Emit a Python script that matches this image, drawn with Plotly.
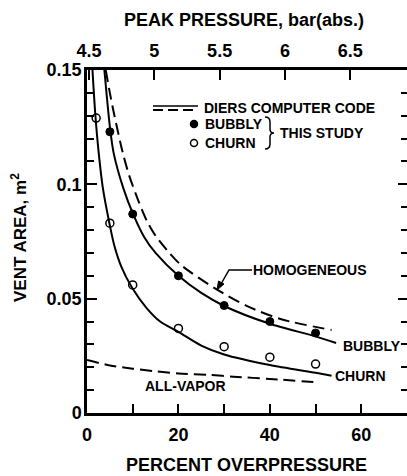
import plotly.graph_objects as go

# ---------------- data ----------------
# Measured points ("THIS STUDY")
BUBBLY_X = [5, 10, 20, 30, 40, 50]
BUBBLY_Y = [0.123, 0.087, 0.060, 0.047, 0.040, 0.035]
CHURN_X = [2, 5, 10, 20, 30, 40, 50]
CHURN_Y = [0.129, 0.083, 0.056, 0.037, 0.029, 0.0244, 0.0214]

# DIERS computer code curves
BUBBLY_CURVE_X = [3.8, 5.1, 5.9, 8, 10, 12.5, 15, 20, 25, 30, 40, 50, 54.5]
BUBBLY_CURVE_Y = [0.150, 0.1235, 0.113, 0.098, 0.0874, 0.077, 0.070, 0.060,
                  0.0525, 0.0468, 0.039, 0.0335, 0.0306]
CHURN_CURVE_X = [1.2, 1.8, 2.5, 3.5, 4.9, 6, 7.5, 9.8, 13, 16, 20, 25, 30,
                 40, 50, 53.5]
CHURN_CURVE_Y = [0.150, 0.131, 0.115, 0.098, 0.083, 0.073, 0.064, 0.055,
                 0.046, 0.040, 0.0355, 0.0295, 0.0256, 0.021, 0.0176, 0.0163]
HOMOG_CURVE_X = [4.1, 5.0, 5.9, 7.8, 9.2, 11.2, 13.1, 15, 17.8, 20.7, 28,
                 35.3, 42.5, 53.5]
HOMOG_CURVE_Y = [0.150, 0.140, 0.131, 0.114, 0.104, 0.093, 0.084, 0.0775,
                 0.0705, 0.0645, 0.0545, 0.0465, 0.041, 0.0363]
VAPOR_CURVE_X = [0, 5, 10, 15, 20, 27, 32, 40, 50.5]
VAPOR_CURVE_Y = [0.0232, 0.0208, 0.0194, 0.0182, 0.0173, 0.0166, 0.0159,
                 0.0149, 0.0134]

# Axis ticks
X_TICKS = [0, 20, 40, 60]
Y_TICKS = [0, 0.05, 0.1, 0.15]
Y_TICK_TEXT = ["0", "0.05", "0.1", "0.15"]
PEAK_TICKS = [4.5, 5, 5.5, 6, 6.5]
PEAK_TICK_TEXT = ["4.5", "5", "5.5", "6", "6.5"]

# ---------------- layout helpers ----------------
W, H = 407, 476
PL, PR, PT, PB = 87, 407, 70, 413
FONT = "Liberation Sans"


def pxx(x):
    return (x - PL) / (PR - PL)


def pxy(y):
    return (PB - y) / (PB - PT)


fig = go.Figure()

line_style = dict(color="black", width=2, shape="spline", smoothing=0.8)
dash_style = dict(color="black", width=2, shape="spline", smoothing=0.8,
                  dash="12px,6px")

fig.add_trace(go.Scatter(x=BUBBLY_CURVE_X, y=BUBBLY_CURVE_Y, mode="lines",
                         line=line_style, hoverinfo="skip"))
fig.add_trace(go.Scatter(x=CHURN_CURVE_X, y=CHURN_CURVE_Y, mode="lines",
                         line=line_style, hoverinfo="skip"))
fig.add_trace(go.Scatter(x=HOMOG_CURVE_X, y=HOMOG_CURVE_Y, mode="lines",
                         line=dash_style, hoverinfo="skip"))
fig.add_trace(go.Scatter(x=VAPOR_CURVE_X, y=VAPOR_CURVE_Y, mode="lines",
                         line=dash_style, hoverinfo="skip"))
fig.add_trace(go.Scatter(x=BUBBLY_X, y=BUBBLY_Y, mode="markers",
                         marker=dict(symbol="circle", size=8, color="black",
                                     line=dict(color="black", width=1))))
fig.add_trace(go.Scatter(x=CHURN_X, y=CHURN_Y, mode="markers",
                         marker=dict(symbol="circle-open", size=8,
                                     color="black",
                                     line=dict(color="black", width=1.5))))
# invisible trace that activates the top (peak pressure) and right axes
fig.add_trace(go.Scatter(x=PEAK_TICKS, y=[Y_TICKS[0]] * len(PEAK_TICKS),
                         xaxis="x2", yaxis="y2", mode="markers",
                         marker=dict(opacity=0), hoverinfo="skip"))

tickfont = dict(family=FONT, size=18, color="black", weight="bold")

fig.update_layout(
    width=W, height=H,
    margin=dict(l=PL, r=W - PR, t=PT, b=H - PB, pad=0),
    paper_bgcolor="white", plot_bgcolor="white",
    showlegend=False,
    xaxis=dict(range=[0, 70], tickvals=X_TICKS, ticks="inside", ticklen=9,
               tickwidth=2, tickcolor="black", showline=True, linewidth=2.5,
               linecolor="black", showgrid=False, zeroline=False,
               tickfont=tickfont, ticklabelstandoff=4,
               minor=dict(dtick=10, ticks="inside", ticklen=9, tickwidth=2,
                          tickcolor="black", showgrid=False)),
    yaxis=dict(range=[0, 0.15], tickvals=Y_TICKS, ticktext=Y_TICK_TEXT,
               ticks="inside", ticklen=10, tickwidth=2, tickcolor="black",
               showline=True, linewidth=2.5, linecolor="black",
               showgrid=False, zeroline=False, tickfont=tickfont,
               ticklabelstandoff=-1,
               minor=dict(dtick=0.01, ticks="inside", ticklen=7, tickwidth=2,
                          tickcolor="black", showgrid=False)),
    xaxis2=dict(range=[4.485, 6.934], overlaying="x", side="top",
                anchor="y2", tickvals=PEAK_TICKS, ticktext=PEAK_TICK_TEXT,
                ticks="inside", ticklen=10, tickwidth=2, tickcolor="black",
                showline=True, linewidth=2.5, linecolor="black",
                showgrid=False, zeroline=False, tickfont=tickfont,
                ticklabelstandoff=3),
    yaxis2=dict(range=[0, 0.15], overlaying="y", side="right", anchor="x2",
                tickvals=Y_TICKS, showticklabels=False, ticks="inside",
                ticklen=9, tickwidth=2, tickcolor="black", showline=False,
                showgrid=False, zeroline=False,
                minor=dict(dtick=0.01, ticks="inside", ticklen=6,
                           tickwidth=2, tickcolor="black", showgrid=False)),
)

shapes = []
annots = []


def text(t, x, y, size=14, xanchor="left", angle=0):
    annots.append(dict(text=t, x=pxx(x), y=pxy(y), xref="paper",
                       yref="paper", showarrow=False, xanchor=xanchor,
                       yanchor="middle", textangle=angle,
                       font=dict(family=FONT, size=size, color="black",
                                 weight="bold")))


def path_of(points, close=False):
    s = "M " + " L ".join(f"{pxx(x):.5f},{pxy(y):.5f}" for x, y in points)
    return s + (" Z" if close else "")


# axis titles
text("PEAK PRESSURE, bar(abs.)", 244, 20, size=18, xanchor="center")
text("PERCENT OVERPRESSURE", 246, 465, size=18, xanchor="center")
text("VENT AREA, m<sup>2</sup>", 19, 238, size=17, xanchor="center",
     angle=-90)

# legend
shapes.append(dict(type="line", xref="paper", yref="paper",
                   x0=pxx(153), x1=pxx(198), y0=pxy(106), y1=pxy(106),
                   line=dict(color="black", width=1.5)))
shapes.append(dict(type="line", xref="paper", yref="paper",
                   x0=pxx(153), x1=pxx(198), y0=pxy(110), y1=pxy(110),
                   line=dict(color="black", width=2, dash="10px,5px")))
text("DIERS COMPUTER CODE", 202, 108)
for cy, filled in [(124, True), (143, False)]:
    shapes.append(dict(type="circle", xref="paper", yref="paper",
                       xsizemode="pixel", ysizemode="pixel",
                       xanchor=pxx(194), yanchor=pxy(cy),
                       x0=-3.5, x1=3.5, y0=-3.5, y1=3.5,
                       fillcolor="black" if filled else "white",
                       line=dict(color="black", width=1.5)))
text("BUBBLY", 203, 124)
text("CHURN", 203, 143)

brace_pts = [("M", 265, 117), ("Q", 270, 117), ("", 270, 122),
             ("L", 270, 129), ("Q", 270, 133), ("", 274, 133),
             ("Q", 270, 133), ("", 270, 137), ("L", 270, 144),
             ("Q", 270, 149), ("", 265, 149)]
path = " ".join(f"{c} {pxx(x):.5f},{pxy(y):.5f}".strip()
                for c, x, y in brace_pts)
shapes.append(dict(type="path", xref="paper", yref="paper", path=path,
                   line=dict(color="black", width=1.5)))
text("THIS STUDY", 278, 133)

# curve labels
text("HOMOGENEOUS", 251, 270)
shapes.append(dict(type="path", xref="paper", yref="paper",
                   path=path_of([(252, 270), (229, 270), (221, 284)]),
                   line=dict(color="black", width=1.5)))
shapes.append(dict(type="path", xref="paper", yref="paper",
                   path=path_of([(217, 290), (218.5, 281), (224, 284)],
                                close=True),
                   fillcolor="black", line=dict(color="black", width=1)))
text("BUBBLY", 341, 346)
text("CHURN", 333, 376)
text("ALL-VAPOR", 185, 386, xanchor="center")

fig.update_layout(shapes=shapes, annotations=annots)

fig.write_html("out.html",
               config={"displayModeBar": False},
               post_script="document.body.style.margin='0';"
                           "document.body.style.overflow='hidden';")
